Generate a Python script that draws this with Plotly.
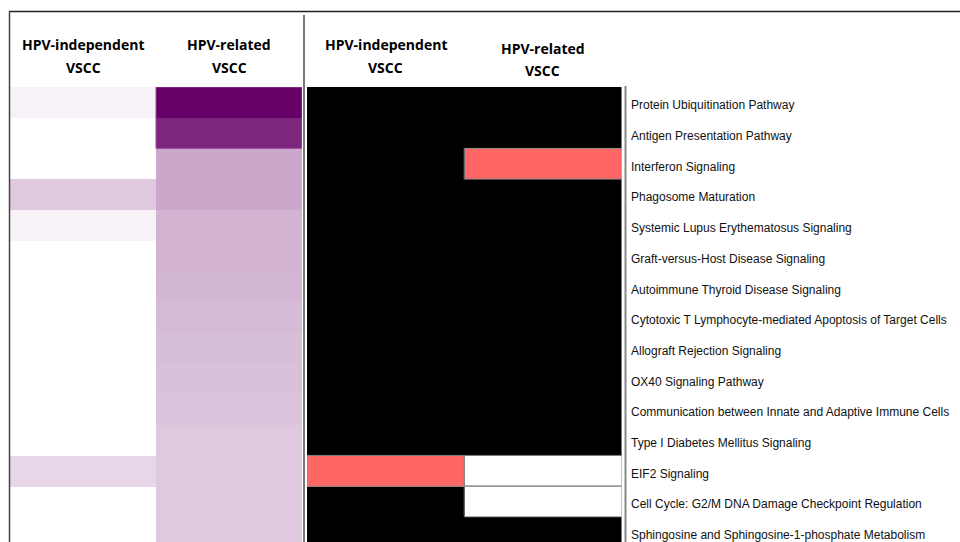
import plotly.graph_objects as go

# ---------------- data ----------------
pathways = [
    "Protein Ubiquitination Pathway",
    "Antigen Presentation Pathway",
    "Interferon Signaling",
    "Phagosome Maturation",
    "Systemic Lupus Erythematosus Signaling",
    "Graft-versus-Host Disease Signaling",
    "Autoimmune Thyroid Disease Signaling",
    "Cytotoxic T Lymphocyte-mediated Apoptosis of Target Cells",
    "Allograft Rejection Signaling",
    "OX40 Signaling Pathway",
    "Communication between Innate and Adaptive Immune Cells",
    "Type I Diabetes Mellitus Signaling",
    "EIF2 Signaling",
    "Cell Cycle: G2/M DNA Damage Checkpoint Regulation",
    "Sphingosine and Sphingosine-1-phosphate Metabolism",
]
group_line1 = ["HPV-independent", "HPV-related"]
group_line2 = ["VSCC", "VSCC"]

# enrichment significance (left panel, purple scale)
enrich_hpv_independent = [0.5, 0.0, 0.0, 2.1, 0.5, 0.0, 0.0, 0.0, 0.0, 0.0, 0.0, 0.0, 1.6, 0.0, 0.0]
enrich_hpv_related = [10.0, 8.5, 3.4, 3.4, 2.95, 2.95, 2.85, 2.65, 2.52, 2.45, 2.37, 2.1, 2.1, 2.1, 2.1]

# activation state (right panel): 0 = no z-score, 1 = activated, 2 = not enriched
state_hpv_independent = [0, 0, 0, 0, 0, 0, 0, 0, 0, 0, 0, 0, 1, 0, 0]
state_hpv_related = [0, 0, 1, 0, 0, 0, 0, 0, 0, 0, 0, 0, 2, 2, 0]

W, H = 960, 542
ROW_TOP = 87
ROW_H = 30.7

def px_x(p):
    return p / W

def px_y(p):
    return 1 - p / H

n_rows = len(pathways)
y_bottom_val = (H - ROW_TOP) / ROW_H - 0.5

z_left = [[a, b] for a, b in zip(enrich_hpv_independent, enrich_hpv_related)]
z_right = [[a, b] for a, b in zip(state_hpv_independent, state_hpv_related)]

fig = go.Figure()
fig.add_trace(go.Heatmap(
    z=z_left, x=[0, 1], y=list(range(n_rows)),
    colorscale=[[0, "#ffffff"], [1, "#660066"]],
    zmin=0, zmax=10, showscale=False, xaxis="x", yaxis="y",
    hoverinfo="skip",
))
fig.add_trace(go.Heatmap(
    z=z_right, x=[0, 1], y=list(range(n_rows)),
    colorscale=[[0, "#000000"], [0.3333, "#000000"], [0.3333, "#ff6666"],
                [0.6667, "#ff6666"], [0.6667, "#ffffff"], [1, "#ffffff"]],
    zmin=0, zmax=2, showscale=False, xaxis="x2", yaxis="y",
    hoverinfo="skip",
))

# borders on highlighted cells of the right panel
shapes = []
for i in range(n_rows):
    for j, col in enumerate([state_hpv_independent, state_hpv_related]):
        if col[i] != 0:
            shapes.append(dict(type="rect", xref="x2", yref="y",
                               x0=j - 0.5, x1=j + 0.5, y0=i - 0.5, y1=i + 0.5,
                               line=dict(color="#888888", width=1), layer="above"))
# border around the two darkest left cells
shapes.append(dict(type="rect", xref="x", yref="y", x0=0.5, x1=1.5, y0=-0.5, y1=1.5,
                   line=dict(color="#9a4a98", width=1), layer="above"))

# frame lines
shapes += [
    dict(type="line", xref="paper", yref="paper", x0=px_x(9), x1=1, y0=px_y(11.5), y1=px_y(11.5),
         line=dict(color="#222222", width=1.5)),
    dict(type="line", xref="paper", yref="paper", x0=px_x(9.5), x1=px_x(9.5), y0=px_y(11), y1=0,
         line=dict(color="#444444", width=1.5)),
    dict(type="line", xref="paper", yref="paper", x0=px_x(304), x1=px_x(304), y0=px_y(15), y1=0,
         line=dict(color="#777777", width=2)),
    dict(type="line", xref="paper", yref="paper", x0=px_x(625.5), x1=px_x(625.5), y0=px_y(86), y1=0,
         line=dict(color="#888888", width=2)),
]

header_font = dict(family="Open Sans, sans-serif", size=14, color="#000000")
annotations = []
header_rows = [("x", 0, 45), ("x", 1, 45), ("x2", 0, 45), ("x2", 1, 48)]
for xref, j, ytop in header_rows:
    annotations.append(dict(text="<b>" + group_line1[j] + "</b>", xref=xref, yref="paper", x=j,
                            y=px_y(ytop), showarrow=False, xanchor="center", yanchor="middle",
                            font=header_font))
    annotations.append(dict(text="<b>" + group_line2[j] + "</b>", xref=xref, yref="paper", x=j,
                            y=px_y(ytop + 22), showarrow=False, xanchor="center", yanchor="middle",
                            font=header_font))

# row labels, placed on the shared row axis
label_font = dict(family="Liberation Sans, Arial, sans-serif", size=12, color="#111111")
for i, name in enumerate(pathways):
    annotations.append(dict(text=name, xref="paper", yref="y", x=px_x(629), y=i, yshift=-3,
                            showarrow=False, xanchor="left", yanchor="middle", font=label_font))

fig.update_layout(
    width=W, height=H,
    margin=dict(l=0, r=0, t=0, b=0, autoexpand=False),
    paper_bgcolor="#ffffff", plot_bgcolor="#ffffff",
    showlegend=False,
    xaxis=dict(domain=[px_x(10), px_x(302)], range=[-0.5, 1.5], visible=False, fixedrange=True,
               automargin=False),
    xaxis2=dict(domain=[px_x(307), px_x(621.5)], range=[-0.5, 1.5], visible=False, fixedrange=True,
                automargin=False),
    yaxis=dict(domain=[0, px_y(ROW_TOP)], range=[y_bottom_val, -0.5], visible=False,
               fixedrange=True, automargin=False),
    shapes=shapes,
    annotations=annotations,
)

fig.write_html("out.html", config={"displayModeBar": False},
               post_script="document.body.style.margin='0';")
